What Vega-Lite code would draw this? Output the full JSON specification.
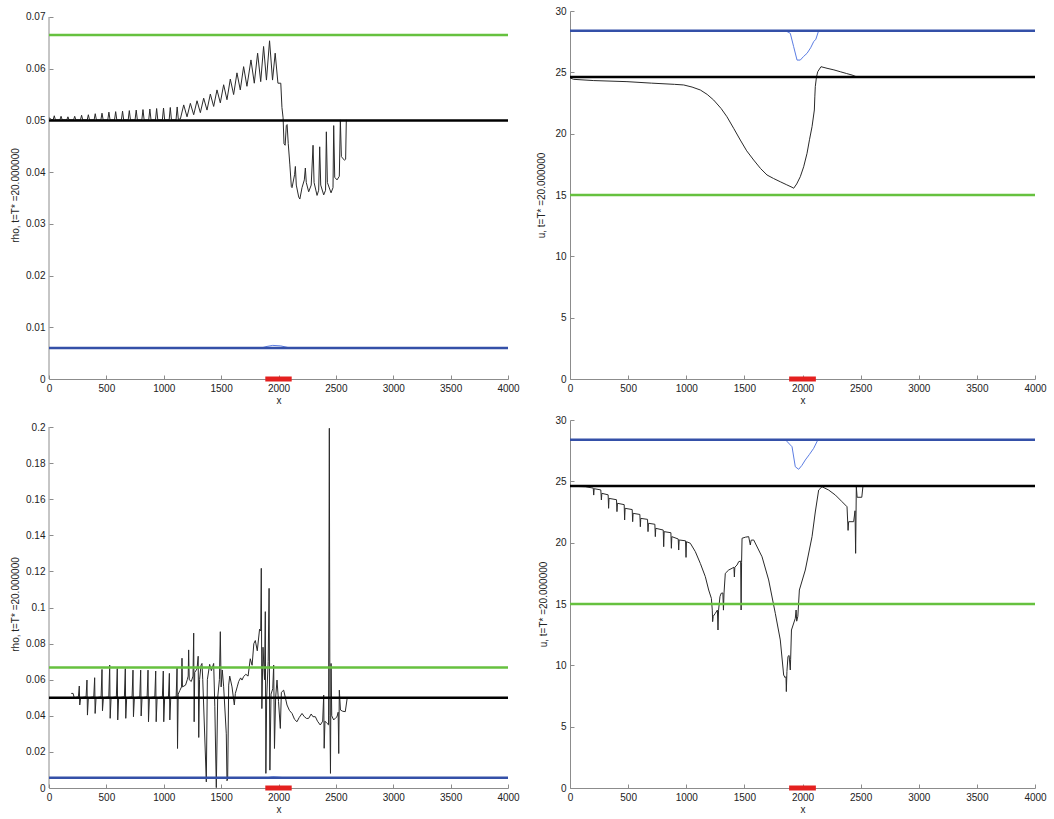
{
  "$schema": "https://vega.github.io/schema/vega-lite/v6.json",
  "background": "white",
  "padding": {"left": 10, "top": 6, "right": 5, "bottom": 5},
  "bounds": "flush",
  "columns": 2,
  "spacing": {"row": 41, "column": 62},
  "datasets": {
    "p1": [
      {"x": 0, "y": 0.0505}, {"x": 20, "y": 0.0502},
      {"x": 36, "y": 0.0501}, {"x": 46, "y": 0.0509}, {"x": 56, "y": 0.0501},
      {"x": 95, "y": 0.0501}, {"x": 105, "y": 0.0508}, {"x": 115, "y": 0.0501},
      {"x": 155, "y": 0.0501}, {"x": 165, "y": 0.0507}, {"x": 175, "y": 0.0501},
      {"x": 214, "y": 0.0501}, {"x": 224, "y": 0.0508}, {"x": 234, "y": 0.0501},
      {"x": 274, "y": 0.0501}, {"x": 284, "y": 0.051}, {"x": 294, "y": 0.0501},
      {"x": 333, "y": 0.0501}, {"x": 343, "y": 0.0511}, {"x": 353, "y": 0.0501},
      {"x": 393, "y": 0.0501}, {"x": 403, "y": 0.0513}, {"x": 413, "y": 0.0501},
      {"x": 452, "y": 0.0501}, {"x": 462, "y": 0.0514}, {"x": 472, "y": 0.0501},
      {"x": 512, "y": 0.0501}, {"x": 522, "y": 0.0516}, {"x": 532, "y": 0.0501},
      {"x": 571, "y": 0.0501}, {"x": 581, "y": 0.0517}, {"x": 591, "y": 0.0501},
      {"x": 631, "y": 0.0501}, {"x": 641, "y": 0.0518}, {"x": 651, "y": 0.0501},
      {"x": 690, "y": 0.0501}, {"x": 700, "y": 0.0519}, {"x": 710, "y": 0.0501},
      {"x": 750, "y": 0.0501}, {"x": 760, "y": 0.052}, {"x": 770, "y": 0.0501},
      {"x": 809, "y": 0.0501}, {"x": 819, "y": 0.0521}, {"x": 829, "y": 0.0501},
      {"x": 869, "y": 0.0501}, {"x": 879, "y": 0.0522}, {"x": 889, "y": 0.0501},
      {"x": 928, "y": 0.0501}, {"x": 938, "y": 0.0523}, {"x": 948, "y": 0.0501},
      {"x": 988, "y": 0.0501}, {"x": 998, "y": 0.0524}, {"x": 1008, "y": 0.0501},
      {"x": 1047, "y": 0.0501}, {"x": 1057, "y": 0.0525}, {"x": 1067, "y": 0.0501},
      {"x": 1107, "y": 0.0501}, {"x": 1117, "y": 0.0526}, {"x": 1127, "y": 0.0502},
      {"x": 1145, "y": 0.0503},
      {"x": 1174, "y": 0.053}, {"x": 1203, "y": 0.0507},
      {"x": 1232, "y": 0.0533}, {"x": 1261, "y": 0.0511},
      {"x": 1290, "y": 0.0538}, {"x": 1319, "y": 0.0515},
      {"x": 1348, "y": 0.0543}, {"x": 1377, "y": 0.052},
      {"x": 1406, "y": 0.0551}, {"x": 1435, "y": 0.0527},
      {"x": 1464, "y": 0.0559}, {"x": 1493, "y": 0.0534},
      {"x": 1522, "y": 0.0569}, {"x": 1551, "y": 0.054},
      {"x": 1580, "y": 0.058}, {"x": 1609, "y": 0.055},
      {"x": 1638, "y": 0.0592}, {"x": 1667, "y": 0.0559},
      {"x": 1696, "y": 0.0604}, {"x": 1725, "y": 0.0566},
      {"x": 1760, "y": 0.0617}, {"x": 1789, "y": 0.0572},
      {"x": 1818, "y": 0.063}, {"x": 1845, "y": 0.0575},
      {"x": 1870, "y": 0.0643}, {"x": 1895, "y": 0.0578},
      {"x": 1922, "y": 0.0654}, {"x": 1948, "y": 0.0578},
      {"x": 1971, "y": 0.063}, {"x": 1995, "y": 0.0572},
      {"x": 2020, "y": 0.0572}, {"x": 2030, "y": 0.0525}, {"x": 2040, "y": 0.0505},
      {"x": 2048, "y": 0.0455}, {"x": 2058, "y": 0.0452}, {"x": 2068, "y": 0.049},
      {"x": 2075, "y": 0.0492}, {"x": 2085, "y": 0.0455}, {"x": 2099, "y": 0.0414},
      {"x": 2112, "y": 0.0372}, {"x": 2118, "y": 0.037}, {"x": 2140, "y": 0.0395},
      {"x": 2147, "y": 0.0411}, {"x": 2155, "y": 0.0375}, {"x": 2176, "y": 0.0352},
      {"x": 2186, "y": 0.0348}, {"x": 2205, "y": 0.037}, {"x": 2225, "y": 0.0385},
      {"x": 2234, "y": 0.0408}, {"x": 2242, "y": 0.038}, {"x": 2263, "y": 0.0362},
      {"x": 2285, "y": 0.0375}, {"x": 2301, "y": 0.0452}, {"x": 2310, "y": 0.038},
      {"x": 2336, "y": 0.0355}, {"x": 2350, "y": 0.0365}, {"x": 2359, "y": 0.0449},
      {"x": 2368, "y": 0.0375}, {"x": 2394, "y": 0.0356}, {"x": 2410, "y": 0.0365},
      {"x": 2417, "y": 0.0478}, {"x": 2426, "y": 0.038}, {"x": 2458, "y": 0.036},
      {"x": 2475, "y": 0.037}, {"x": 2481, "y": 0.049}, {"x": 2490, "y": 0.039},
      {"x": 2510, "y": 0.0385}, {"x": 2530, "y": 0.0392}, {"x": 2539, "y": 0.0501},
      {"x": 2548, "y": 0.043}, {"x": 2575, "y": 0.0423}, {"x": 2585, "y": 0.0425},
      {"x": 2591, "y": 0.0501}
    ],
    "p1b": [
      {"x": 1850, "y": 0.006}, {"x": 1900, "y": 0.0063}, {"x": 1950, "y": 0.0065},
      {"x": 2020, "y": 0.0064}, {"x": 2080, "y": 0.0061}, {"x": 2120, "y": 0.006}
    ],
    "p2": [
      {"x": 0, "y": 24.55}, {"x": 30, "y": 24.43}, {"x": 200, "y": 24.33}, {"x": 490, "y": 24.24},
      {"x": 700, "y": 24.12}, {"x": 900, "y": 24.02}, {"x": 978, "y": 23.97}, {"x": 1050, "y": 23.8},
      {"x": 1121, "y": 23.56}, {"x": 1180, "y": 23.2}, {"x": 1236, "y": 22.74}, {"x": 1300, "y": 22.05},
      {"x": 1350, "y": 21.38}, {"x": 1410, "y": 20.4}, {"x": 1465, "y": 19.48}, {"x": 1520, "y": 18.6},
      {"x": 1580, "y": 17.85}, {"x": 1640, "y": 17.15}, {"x": 1695, "y": 16.63}, {"x": 1750, "y": 16.35},
      {"x": 1809, "y": 16.08}, {"x": 1860, "y": 15.85}, {"x": 1910, "y": 15.63}, {"x": 1924, "y": 15.55},
      {"x": 1950, "y": 15.9}, {"x": 1981, "y": 16.49}, {"x": 2010, "y": 17.3}, {"x": 2039, "y": 18.4},
      {"x": 2060, "y": 19.5}, {"x": 2082, "y": 20.57}, {"x": 2102, "y": 21.93}, {"x": 2106, "y": 23.0},
      {"x": 2110, "y": 23.83}, {"x": 2120, "y": 24.6}, {"x": 2131, "y": 25.05}, {"x": 2159, "y": 25.46},
      {"x": 2211, "y": 25.33}, {"x": 2270, "y": 25.2}, {"x": 2325, "y": 25.05}, {"x": 2380, "y": 24.9},
      {"x": 2426, "y": 24.78}, {"x": 2469, "y": 24.62}
    ],
    "p2b": [
      {"x": 1852, "y": 28.4}, {"x": 1895, "y": 28.18}, {"x": 1924, "y": 27.09}, {"x": 1953, "y": 26.0},
      {"x": 1981, "y": 26.0}, {"x": 2010, "y": 26.3}, {"x": 2039, "y": 26.55}, {"x": 2070, "y": 27.0},
      {"x": 2096, "y": 27.5}, {"x": 2115, "y": 27.7}, {"x": 2139, "y": 28.4}
    ],
    "p3": [
      {"x": 194, "y": 0.0524}, {"x": 210, "y": 0.0524}, {"x": 220, "y": 0.05},
      {"x": 256, "y": 0.0505}, {"x": 264, "y": 0.0565}, {"x": 268, "y": 0.046}, {"x": 276, "y": 0.05},
      {"x": 323, "y": 0.0505}, {"x": 331, "y": 0.0598}, {"x": 335, "y": 0.0404}, {"x": 343, "y": 0.05},
      {"x": 390, "y": 0.0505}, {"x": 398, "y": 0.0611}, {"x": 402, "y": 0.0413}, {"x": 410, "y": 0.05},
      {"x": 454, "y": 0.0505}, {"x": 462, "y": 0.0657}, {"x": 466, "y": 0.0428}, {"x": 474, "y": 0.05},
      {"x": 521, "y": 0.0505}, {"x": 529, "y": 0.0681}, {"x": 533, "y": 0.0386}, {"x": 541, "y": 0.05},
      {"x": 587, "y": 0.0505}, {"x": 595, "y": 0.0662}, {"x": 599, "y": 0.0377}, {"x": 607, "y": 0.05},
      {"x": 657, "y": 0.0505}, {"x": 665, "y": 0.0662}, {"x": 669, "y": 0.0386}, {"x": 677, "y": 0.05},
      {"x": 724, "y": 0.0505}, {"x": 732, "y": 0.0653}, {"x": 736, "y": 0.0395}, {"x": 744, "y": 0.05},
      {"x": 791, "y": 0.0505}, {"x": 799, "y": 0.0653}, {"x": 803, "y": 0.0399}, {"x": 811, "y": 0.05},
      {"x": 855, "y": 0.0505}, {"x": 863, "y": 0.0653}, {"x": 867, "y": 0.0367}, {"x": 875, "y": 0.05},
      {"x": 922, "y": 0.0505}, {"x": 930, "y": 0.0648}, {"x": 934, "y": 0.0367}, {"x": 942, "y": 0.05},
      {"x": 988, "y": 0.0505}, {"x": 996, "y": 0.0648}, {"x": 1000, "y": 0.0367}, {"x": 1008, "y": 0.05},
      {"x": 1041, "y": 0.0505}, {"x": 1049, "y": 0.0635}, {"x": 1053, "y": 0.0377}, {"x": 1061, "y": 0.05},
      {"x": 1108, "y": 0.0505}, {"x": 1116, "y": 0.0668}, {"x": 1120, "y": 0.0219}, {"x": 1126, "y": 0.052},
      {"x": 1140, "y": 0.054}, {"x": 1155, "y": 0.056}, {"x": 1159, "y": 0.0719}, {"x": 1163, "y": 0.056},
      {"x": 1190, "y": 0.057}, {"x": 1205, "y": 0.06}, {"x": 1213, "y": 0.062}, {"x": 1217, "y": 0.0765},
      {"x": 1222, "y": 0.06}, {"x": 1240, "y": 0.059}, {"x": 1255, "y": 0.062}, {"x": 1261, "y": 0.0858},
      {"x": 1265, "y": 0.0367}, {"x": 1270, "y": 0.064}, {"x": 1290, "y": 0.066}, {"x": 1300, "y": 0.073},
      {"x": 1305, "y": 0.028}, {"x": 1312, "y": 0.06}, {"x": 1325, "y": 0.068}, {"x": 1333, "y": 0.069},
      {"x": 1340, "y": 0.06}, {"x": 1371, "y": 0.0034}, {"x": 1380, "y": 0.06}, {"x": 1400, "y": 0.0685},
      {"x": 1415, "y": 0.065}, {"x": 1435, "y": 0.069}, {"x": 1445, "y": 0.045}, {"x": 1458, "y": 0.0002},
      {"x": 1470, "y": 0.05}, {"x": 1485, "y": 0.06}, {"x": 1493, "y": 0.0866}, {"x": 1500, "y": 0.056},
      {"x": 1510, "y": 0.0654}, {"x": 1522, "y": 0.0561}, {"x": 1545, "y": 0.03}, {"x": 1551, "y": 0.004},
      {"x": 1557, "y": 0.005}, {"x": 1566, "y": 0.057}, {"x": 1575, "y": 0.062}, {"x": 1595, "y": 0.056},
      {"x": 1615, "y": 0.046}, {"x": 1624, "y": 0.0524}, {"x": 1640, "y": 0.056}, {"x": 1653, "y": 0.059},
      {"x": 1670, "y": 0.061}, {"x": 1682, "y": 0.0598}, {"x": 1696, "y": 0.0617}, {"x": 1715, "y": 0.063},
      {"x": 1735, "y": 0.062}, {"x": 1754, "y": 0.0716}, {"x": 1770, "y": 0.068}, {"x": 1785, "y": 0.08},
      {"x": 1798, "y": 0.0817}, {"x": 1815, "y": 0.076}, {"x": 1835, "y": 0.088}, {"x": 1845, "y": 0.087},
      {"x": 1850, "y": 0.1217}, {"x": 1855, "y": 0.044}, {"x": 1865, "y": 0.078}, {"x": 1878, "y": 0.06},
      {"x": 1885, "y": 0.0977}, {"x": 1890, "y": 0.0081}, {"x": 1897, "y": 0.05}, {"x": 1910, "y": 0.07},
      {"x": 1918, "y": 0.1106}, {"x": 1925, "y": 0.0099}, {"x": 1935, "y": 0.052}, {"x": 1950, "y": 0.055},
      {"x": 1958, "y": 0.0681}, {"x": 1965, "y": 0.0219}, {"x": 1975, "y": 0.05}, {"x": 1987, "y": 0.0598},
      {"x": 2000, "y": 0.048}, {"x": 2016, "y": 0.033}, {"x": 2025, "y": 0.053}, {"x": 2045, "y": 0.0542},
      {"x": 2060, "y": 0.05}, {"x": 2074, "y": 0.046}, {"x": 2095, "y": 0.043}, {"x": 2118, "y": 0.0413},
      {"x": 2140, "y": 0.038}, {"x": 2161, "y": 0.0367}, {"x": 2180, "y": 0.039}, {"x": 2205, "y": 0.0413},
      {"x": 2225, "y": 0.0395}, {"x": 2245, "y": 0.0385}, {"x": 2263, "y": 0.0386}, {"x": 2285, "y": 0.041},
      {"x": 2300, "y": 0.0395}, {"x": 2321, "y": 0.0395}, {"x": 2340, "y": 0.037}, {"x": 2364, "y": 0.0349},
      {"x": 2385, "y": 0.037}, {"x": 2394, "y": 0.0515}, {"x": 2398, "y": 0.022}, {"x": 2405, "y": 0.037},
      {"x": 2423, "y": 0.0358}, {"x": 2436, "y": 0.035}, {"x": 2443, "y": 0.1993}, {"x": 2448, "y": 0.04},
      {"x": 2453, "y": 0.0081}, {"x": 2458, "y": 0.069}, {"x": 2464, "y": 0.04}, {"x": 2481, "y": 0.0377},
      {"x": 2500, "y": 0.039}, {"x": 2510, "y": 0.0395}, {"x": 2520, "y": 0.042}, {"x": 2525, "y": 0.0191},
      {"x": 2530, "y": 0.0542}, {"x": 2540, "y": 0.0432}, {"x": 2560, "y": 0.0425}, {"x": 2582, "y": 0.0423},
      {"x": 2599, "y": 0.05}
    ],
    "p3b": [
      {"x": 1900, "y": 0.0057}, {"x": 1950, "y": 0.0062}, {"x": 2000, "y": 0.006}, {"x": 2050, "y": 0.0057}
    ],
    "p4": [
      {"x": 0, "y": 24.6}, {"x": 132, "y": 24.56}, {"x": 200, "y": 24.45}, {"x": 204, "y": 23.88}, {"x": 208, "y": 24.4},
      {"x": 265, "y": 24.3}, {"x": 270, "y": 23.48}, {"x": 274, "y": 24.02},
      {"x": 328, "y": 23.9}, {"x": 332, "y": 22.8}, {"x": 336, "y": 23.61},
      {"x": 400, "y": 23.5}, {"x": 404, "y": 22.53}, {"x": 408, "y": 23.21},
      {"x": 466, "y": 23.1}, {"x": 470, "y": 21.85}, {"x": 474, "y": 22.8},
      {"x": 535, "y": 22.7}, {"x": 539, "y": 21.71}, {"x": 543, "y": 22.39},
      {"x": 601, "y": 22.3}, {"x": 605, "y": 21.3}, {"x": 609, "y": 21.98},
      {"x": 667, "y": 21.9}, {"x": 671, "y": 20.9}, {"x": 675, "y": 21.58},
      {"x": 730, "y": 21.5}, {"x": 734, "y": 20.49}, {"x": 738, "y": 21.17},
      {"x": 802, "y": 21.03}, {"x": 806, "y": 19.67}, {"x": 810, "y": 20.9},
      {"x": 868, "y": 20.81}, {"x": 872, "y": 19.54}, {"x": 876, "y": 20.49},
      {"x": 931, "y": 20.3}, {"x": 935, "y": 19.4}, {"x": 939, "y": 20.22},
      {"x": 994, "y": 20.15}, {"x": 998, "y": 18.8}, {"x": 1002, "y": 20.08},
      {"x": 1035, "y": 19.95}, {"x": 1078, "y": 19.27}, {"x": 1121, "y": 18.31}, {"x": 1164, "y": 17.23},
      {"x": 1193, "y": 16.14}, {"x": 1216, "y": 15.46}, {"x": 1224, "y": 14.5}, {"x": 1227, "y": 13.56},
      {"x": 1232, "y": 14.0}, {"x": 1250, "y": 14.24}, {"x": 1268, "y": 14.51}, {"x": 1273, "y": 12.88},
      {"x": 1278, "y": 14.5}, {"x": 1290, "y": 15.6}, {"x": 1300, "y": 15.87}, {"x": 1315, "y": 15.9},
      {"x": 1320, "y": 14.5}, {"x": 1325, "y": 15.9}, {"x": 1336, "y": 17.5}, {"x": 1365, "y": 17.77},
      {"x": 1394, "y": 17.91}, {"x": 1410, "y": 18.0}, {"x": 1414, "y": 17.2}, {"x": 1418, "y": 18.0},
      {"x": 1437, "y": 18.18}, {"x": 1451, "y": 18.45}, {"x": 1468, "y": 18.5}, {"x": 1472, "y": 14.51},
      {"x": 1476, "y": 18.4}, {"x": 1480, "y": 20.36}, {"x": 1510, "y": 20.45}, {"x": 1537, "y": 20.49},
      {"x": 1551, "y": 19.81}, {"x": 1558, "y": 20.2}, {"x": 1580, "y": 20.22}, {"x": 1652, "y": 18.85},
      {"x": 1709, "y": 16.96}, {"x": 1766, "y": 14.24}, {"x": 1809, "y": 12.07}, {"x": 1838, "y": 9.21},
      {"x": 1850, "y": 9.0}, {"x": 1858, "y": 9.08}, {"x": 1861, "y": 7.86}, {"x": 1866, "y": 9.5},
      {"x": 1875, "y": 10.73}, {"x": 1885, "y": 10.8}, {"x": 1895, "y": 9.62}, {"x": 1898, "y": 10.5},
      {"x": 1905, "y": 12.88}, {"x": 1938, "y": 13.83}, {"x": 1945, "y": 14.51}, {"x": 1950, "y": 13.6},
      {"x": 1960, "y": 14.0}, {"x": 1973, "y": 16.14}, {"x": 2024, "y": 17.77}, {"x": 2082, "y": 20.49},
      {"x": 2110, "y": 22.5}, {"x": 2139, "y": 24.29}, {"x": 2168, "y": 24.56}, {"x": 2225, "y": 24.29},
      {"x": 2283, "y": 23.88}, {"x": 2340, "y": 23.34}, {"x": 2383, "y": 22.93}, {"x": 2392, "y": 21.0},
      {"x": 2397, "y": 21.71}, {"x": 2440, "y": 21.71}, {"x": 2452, "y": 22.6}, {"x": 2457, "y": 19.13},
      {"x": 2463, "y": 24.56}, {"x": 2470, "y": 23.7}, {"x": 2510, "y": 23.7}, {"x": 2520, "y": 24.6}
    ],
    "p4b": [
      {"x": 1852, "y": 28.4}, {"x": 1910, "y": 27.82}, {"x": 1938, "y": 26.19}, {"x": 1967, "y": 25.98},
      {"x": 1995, "y": 26.3}, {"x": 2024, "y": 26.74}, {"x": 2060, "y": 27.2}, {"x": 2096, "y": 27.69},
      {"x": 2133, "y": 28.4}
    ],
    "redbar": [{"x": 1885, "x2": 2115, "y": 0}]
  },
  "concat": [
    {
      "width": 459, "height": 368,
      "layer": [
        {"data": {"values": [{"x": 0, "y": 0, "y2": 0.07}]}, "mark": {"type": "rule", "color": "#8c8c8c", "strokeWidth": 1},
         "encoding": {"x": {"field": "x", "type": "quantitative"}, "y": {"field": "y", "type": "quantitative"}, "y2": {"field": "y2"}}},
        {"data": {"name": "p1"}, "mark": {"type": "line", "color": "#2a2a2a", "strokeWidth": 1},
         "encoding": {
           "x": {"field": "x", "type": "quantitative", "scale": {"domain": [0, 4000], "nice": false}, "axis": {"values": [0,500,1000,1500,2000,2500,3000,3500,4000], "format": "d", "title": "x", "tickCount": 30}},
           "y": {"field": "y", "type": "quantitative", "scale": {"domain": [0, 0.07116], "nice": false}, "axis": {"values": [0,0.01,0.02,0.03,0.04,0.05,0.06,0.07], "format": "~g", "title": "rho, t=T* =20.000000", "domain": false, "titlePadding": 5, "tickCount": 30}}
         }},
        {"data": {"name": "p1b"}, "mark": {"type": "line", "color": "#5b7de3", "strokeWidth": 1},
         "encoding": {"x": {"field": "x", "type": "quantitative"}, "y": {"field": "y", "type": "quantitative"}}},
        {"data": {"values": [{"y": 0.0665, "s": "g"}, {"y": 0.05, "s": "k"}, {"y": 0.006, "s": "b"}]}, "mark": {"type": "rule", "strokeWidth": 2.5},
         "encoding": {"y": {"field": "y", "type": "quantitative"}, "color": {"field": "s", "type": "nominal", "scale": {"domain": ["g", "k", "b"], "range": ["#66c13f", "#000000", "#3450a8"]}, "legend": null}}},
        {"data": {"name": "redbar"}, "mark": {"type": "rule", "color": "#e4201f", "strokeWidth": 5},
         "encoding": {"x": {"field": "x", "type": "quantitative"}, "x2": {"field": "x2"}, "y": {"field": "y", "type": "quantitative"}}}
      ]
    },
    {
      "width": 465, "height": 368,
      "layer": [
        {"data": {"name": "p2"}, "mark": {"type": "line", "color": "#2a2a2a", "strokeWidth": 1},
         "encoding": {
           "x": {"field": "x", "type": "quantitative", "scale": {"domain": [0, 4000], "nice": false}, "axis": {"values": [0,500,1000,1500,2000,2500,3000,3500,4000], "format": "d", "title": "x", "tickCount": 30}},
           "y": {"field": "y", "type": "quantitative", "scale": {"domain": [0, 30], "nice": false}, "axis": {"values": [0,5,10,15,20,25,30], "format": "~g", "title": "u, t=T* =20.000000", "titlePadding": 8, "tickCount": 30}}
         }},
        {"data": {"name": "p2b"}, "mark": {"type": "line", "color": "#5b7de3", "strokeWidth": 1},
         "encoding": {"x": {"field": "x", "type": "quantitative"}, "y": {"field": "y", "type": "quantitative"}}},
        {"data": {"values": [{"y": 28.4, "s": "b"}, {"y": 24.62, "s": "k"}, {"y": 15.0, "s": "g"}]}, "mark": {"type": "rule", "strokeWidth": 2.5},
         "encoding": {"y": {"field": "y", "type": "quantitative"}, "color": {"field": "s", "type": "nominal", "scale": {"domain": ["g", "k", "b"], "range": ["#66c13f", "#000000", "#3450a8"]}, "legend": null}}},
        {"data": {"name": "redbar"}, "mark": {"type": "rule", "color": "#e4201f", "strokeWidth": 5},
         "encoding": {"x": {"field": "x", "type": "quantitative"}, "x2": {"field": "x2"}, "y": {"field": "y", "type": "quantitative"}}}
      ]
    },
    {
      "width": 459, "height": 368,
      "layer": [
        {"data": {"values": [{"x": 0, "y": 0, "y2": 0.2}]}, "mark": {"type": "rule", "color": "#8c8c8c", "strokeWidth": 1},
         "encoding": {"x": {"field": "x", "type": "quantitative"}, "y": {"field": "y", "type": "quantitative"}, "y2": {"field": "y2"}}},
        {"data": {"name": "p3"}, "mark": {"type": "line", "color": "#2a2a2a", "strokeWidth": 1},
         "encoding": {
           "x": {"field": "x", "type": "quantitative", "scale": {"domain": [0, 4000], "nice": false}, "axis": {"values": [0,500,1000,1500,2000,2500,3000,3500,4000], "format": "d", "title": "x", "tickCount": 30}},
           "y": {"field": "y", "type": "quantitative", "scale": {"domain": [0, 0.20388], "nice": false}, "axis": {"values": [0,0.02,0.04,0.06,0.08,0.1,0.12,0.14,0.16,0.18,0.2], "format": "~g", "title": "rho, t=T* =20.000000", "domain": false, "titlePadding": 5, "tickCount": 30}}
         }},
        {"data": {"name": "p3b"}, "mark": {"type": "line", "color": "#5b7de3", "strokeWidth": 1},
         "encoding": {"x": {"field": "x", "type": "quantitative"}, "y": {"field": "y", "type": "quantitative"}}},
        {"data": {"values": [{"y": 0.0667, "s": "g"}, {"y": 0.05, "s": "k"}, {"y": 0.0057, "s": "b"}]}, "mark": {"type": "rule", "strokeWidth": 2.5},
         "encoding": {"y": {"field": "y", "type": "quantitative"}, "color": {"field": "s", "type": "nominal", "scale": {"domain": ["g", "k", "b"], "range": ["#66c13f", "#000000", "#3450a8"]}, "legend": null}}},
        {"data": {"name": "redbar"}, "mark": {"type": "rule", "color": "#e4201f", "strokeWidth": 5},
         "encoding": {"x": {"field": "x", "type": "quantitative"}, "x2": {"field": "x2"}, "y": {"field": "y", "type": "quantitative"}}}
      ]
    },
    {
      "width": 465, "height": 368,
      "layer": [
        {"data": {"name": "p4"}, "mark": {"type": "line", "color": "#2a2a2a", "strokeWidth": 1},
         "encoding": {
           "x": {"field": "x", "type": "quantitative", "scale": {"domain": [0, 4000], "nice": false}, "axis": {"values": [0,500,1000,1500,2000,2500,3000,3500,4000], "format": "d", "title": "x", "tickCount": 30}},
           "y": {"field": "y", "type": "quantitative", "scale": {"domain": [0, 30], "nice": false}, "axis": {"values": [0,5,10,15,20,25,30], "format": "~g", "title": "u, t=T* =20.000000", "titlePadding": 6, "tickCount": 30}}
         }},
        {"data": {"name": "p4b"}, "mark": {"type": "line", "color": "#5b7de3", "strokeWidth": 1},
         "encoding": {"x": {"field": "x", "type": "quantitative"}, "y": {"field": "y", "type": "quantitative"}}},
        {"data": {"values": [{"y": 28.4, "s": "b"}, {"y": 24.62, "s": "k"}, {"y": 15.0, "s": "g"}]}, "mark": {"type": "rule", "strokeWidth": 2.5},
         "encoding": {"y": {"field": "y", "type": "quantitative"}, "color": {"field": "s", "type": "nominal", "scale": {"domain": ["g", "k", "b"], "range": ["#66c13f", "#000000", "#3450a8"]}, "legend": null}}},
        {"data": {"name": "redbar"}, "mark": {"type": "rule", "color": "#e4201f", "strokeWidth": 5},
         "encoding": {"x": {"field": "x", "type": "quantitative"}, "x2": {"field": "x2"}, "y": {"field": "y", "type": "quantitative"}}}
      ]
    }
  ],
  "config": {
    "view": {"stroke": null},
    "axis": {
      "grid": false,
      "domainColor": "#8c8c8c",
      "tickColor": "#8c8c8c",
      "tickSize": -4,
      "labelPadding": 8,
      "labelOverlap": false,
      "labelFlush": false,
      "labelColor": "#222222",
      "labelFont": "Liberation Sans",
      "labelFontSize": 10,
      "titleFont": "Liberation Sans",
      "titleFontSize": 10,
      "titleFontWeight": "normal",
      "titleColor": "#222222",
      "titlePadding": 2
    }
  }
}
